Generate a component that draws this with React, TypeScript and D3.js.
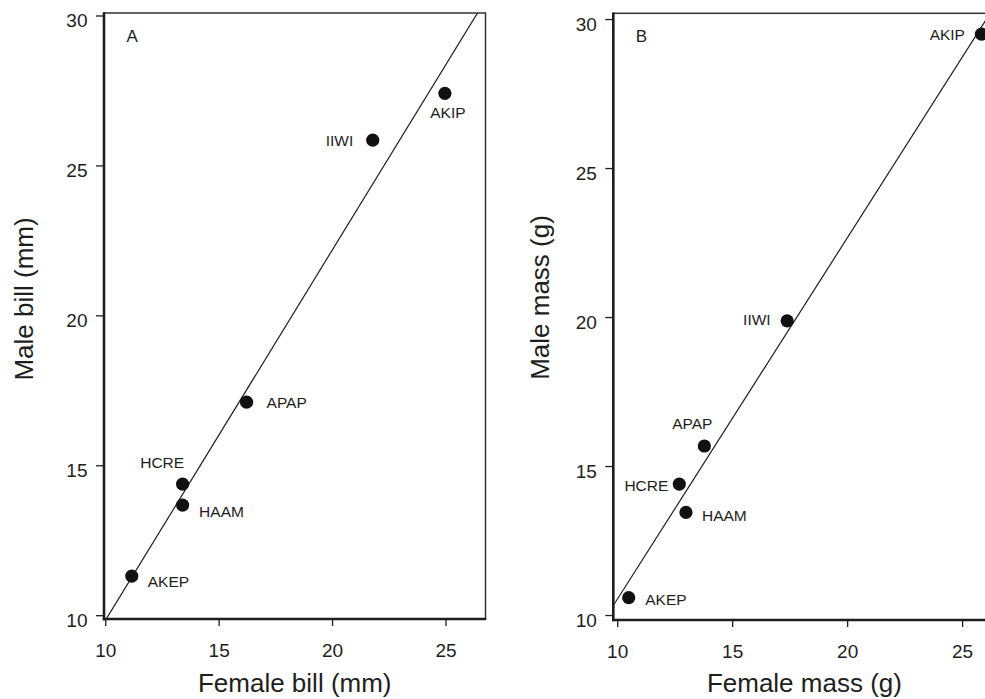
import React from "react";
import * as d3 from "d3";

// ---- data ----
const species = ["AKEP", "HAAM", "HCRE", "APAP", "IIWI", "AKIP"];
const femaleBill = [11.15, 13.39, 13.39, 16.21, 21.77, 24.95];
const maleBill = [11.32, 13.69, 14.39, 17.12, 25.86, 27.42];
const femaleMass = [10.48, 12.97, 12.68, 13.77, 17.37, 25.82];
const maleMass = [10.6, 13.46, 14.41, 15.69, 19.89, 29.51];
const xTickValues = [10, 15, 20, 25];
const yTickValues = [10, 15, 20, 25, 30];
const billFit = [-2.488, 1.235]; // intercept, slope
const massFit = [-1.56, 1.2126];
const panelLetters = ["A", "B"];
const xTitles = ["Female bill (mm)", "Female mass (g)"];
const yTitles = ["Male bill (mm)", "Male mass (g)"];

// ---- label placement (layout only) ----
type Lab = { dx: number; dy: number; anchor: "start" | "middle" | "end" };
const labelsA: Lab[] = [
  { dx: 16, dy: 11, anchor: "start" },
  { dx: 16.5, dy: 12, anchor: "start" },
  { dx: 1.5, dy: -16, anchor: "end" },
  { dx: 20, dy: 5.5, anchor: "start" },
  { dx: -19.5, dy: 5.5, anchor: "end" },
  { dx: 3, dy: 25, anchor: "middle" },
];
const labelsB: Lab[] = [
  { dx: 16.5, dy: 7.5, anchor: "start" },
  { dx: 16, dy: 8.5, anchor: "start" },
  { dx: -11, dy: 6.5, anchor: "end" },
  { dx: -12, dy: -16.5, anchor: "middle" },
  { dx: -16.5, dy: 4.5, anchor: "end" },
  { dx: -16.5, dy: 5.5, anchor: "end" },
];

const FONT = "'Liberation Sans', Arial, Helvetica, sans-serif";
const INK = "#1e1e1e";

type PanelProps = {
  idx: number;
  left: number;
  right: number;
  top: number;
  bottom: number;
  xDomain: [number, number];
  yDomain: [number, number];
  xs: number[];
  ys: number[];
  fit: number[];
  labels: Lab[];
  yTitleY: number;
  yTitleX: number;
};

function Panel(p: PanelProps) {
  const x = d3.scaleLinear().domain(p.xDomain).range([p.left, p.right]);
  const y = d3.scaleLinear().domain(p.yDomain).range([p.bottom, p.top]);
  const clipId = `clip-${p.idx}`;
  const lineGen = d3
    .line<number>()
    .x((d) => x(d))
    .y((d) => y(p.fit[0] + p.fit[1] * d));
  const linePath = lineGen([p.xDomain[0], p.xDomain[1]]) || "";
  const cx = (p.left + p.right) / 2;

  return (
    <g>
      <defs>
        <clipPath id={clipId}>
          <rect x={p.left} y={p.top} width={p.right - p.left} height={p.bottom - p.top} />
        </clipPath>
      </defs>
      {/* frame */}
      <rect
        x={p.left}
        y={p.top}
        width={p.right - p.left}
        height={p.bottom - p.top}
        fill="none"
        stroke="#333"
        strokeWidth={1.5}
      />
      <line x1={p.left} x2={p.left} y1={p.top - 0.7} y2={p.bottom + 1.2} stroke={INK} strokeWidth={2.6} />
      <line x1={p.left - 1.2} x2={p.right + 0.7} y1={p.bottom} y2={p.bottom} stroke={INK} strokeWidth={2.6} />

      {/* x ticks */}
      {xTickValues.map((t) => (
        <g key={`xt${t}`}>
          <line x1={x(t)} x2={x(t)} y1={p.bottom} y2={p.bottom + 7} stroke={INK} strokeWidth={1.3} />
          <text x={x(t)} y={p.bottom + 37.5} textAnchor="middle" fontSize={19} fontFamily={FONT} fill={INK}>
            {t}
          </text>
        </g>
      ))}
      {/* y ticks */}
      {yTickValues.map((t) => (
        <g key={`yt${t}`}>
          <line x1={p.left - 8} x2={p.left} y1={y(t)} y2={y(t)} stroke={INK} strokeWidth={1.3} />
          <text x={p.left - 16.5} y={y(t) + 11} textAnchor="end" fontSize={19} fontFamily={FONT} fill={INK}>
            {t}
          </text>
        </g>
      ))}

      {/* regression line */}
      <path d={linePath} stroke={INK} strokeWidth={1.2} fill="none" clipPath={`url(#${clipId})`} />

      {/* points */}
      {p.xs.map((v, i) => (
        <circle key={`pt${i}`} cx={x(v)} cy={y(p.ys[i])} r={6.6} fill="#111" />
      ))}
      {p.xs.map((v, i) => (
        <text
          key={`lb${i}`}
          x={x(v) + p.labels[i].dx}
          y={y(p.ys[i]) + p.labels[i].dy}
          textAnchor={p.labels[i].anchor}
          fontSize={15.5}
          fontFamily={FONT}
          fill={INK}
        >
          {species[i]}
        </text>
      ))}

      {/* panel letter */}
      <text x={p.left + 22.5} y={p.top + 29} fontSize={17} fontFamily={FONT} fill={INK}>
        {panelLetters[p.idx]}
      </text>

      {/* axis titles */}
      <text x={cx} y={691.5} textAnchor="middle" fontSize={26} fontFamily={FONT} fill={INK}>
        {xTitles[p.idx]}
      </text>
      <text
        transform={`translate(${p.yTitleX},${p.yTitleY}) rotate(-90)`}
        textAnchor="middle"
        fontSize={26}
        fontFamily={FONT}
        fill={INK}
      >
        {yTitles[p.idx]}
      </text>
    </g>
  );
}

export default function App() {
  return (
    <svg
      width={985}
      height={699}
      viewBox="0 0 985 699"
      style={{ position: "absolute", left: 0, top: 0, background: "#fff", overflow: "hidden" }}
    >
      <rect x={0} y={0} width={985} height={699} fill="#fff" />
      <Panel
        idx={0}
        left={104}
        right={485.5}
        top={13}
        bottom={619}
        xDomain={[9.925, 26.74]}
        yDomain={[9.89, 30.1]}
        xs={femaleBill}
        ys={maleBill}
        fit={billFit}
        labels={labelsA}
        yTitleX={33}
        yTitleY={299}
      />
      <Panel
        idx={1}
        left={613.3}
        right={995.5}
        top={13.3}
        bottom={620}
        xDomain={[9.81, 26.43]}
        yDomain={[9.85, 30.21]}
        xs={femaleMass}
        ys={maleMass}
        fit={massFit}
        labels={labelsB}
        yTitleX={549}
        yTitleY={297.5}
      />
    </svg>
  );
}
